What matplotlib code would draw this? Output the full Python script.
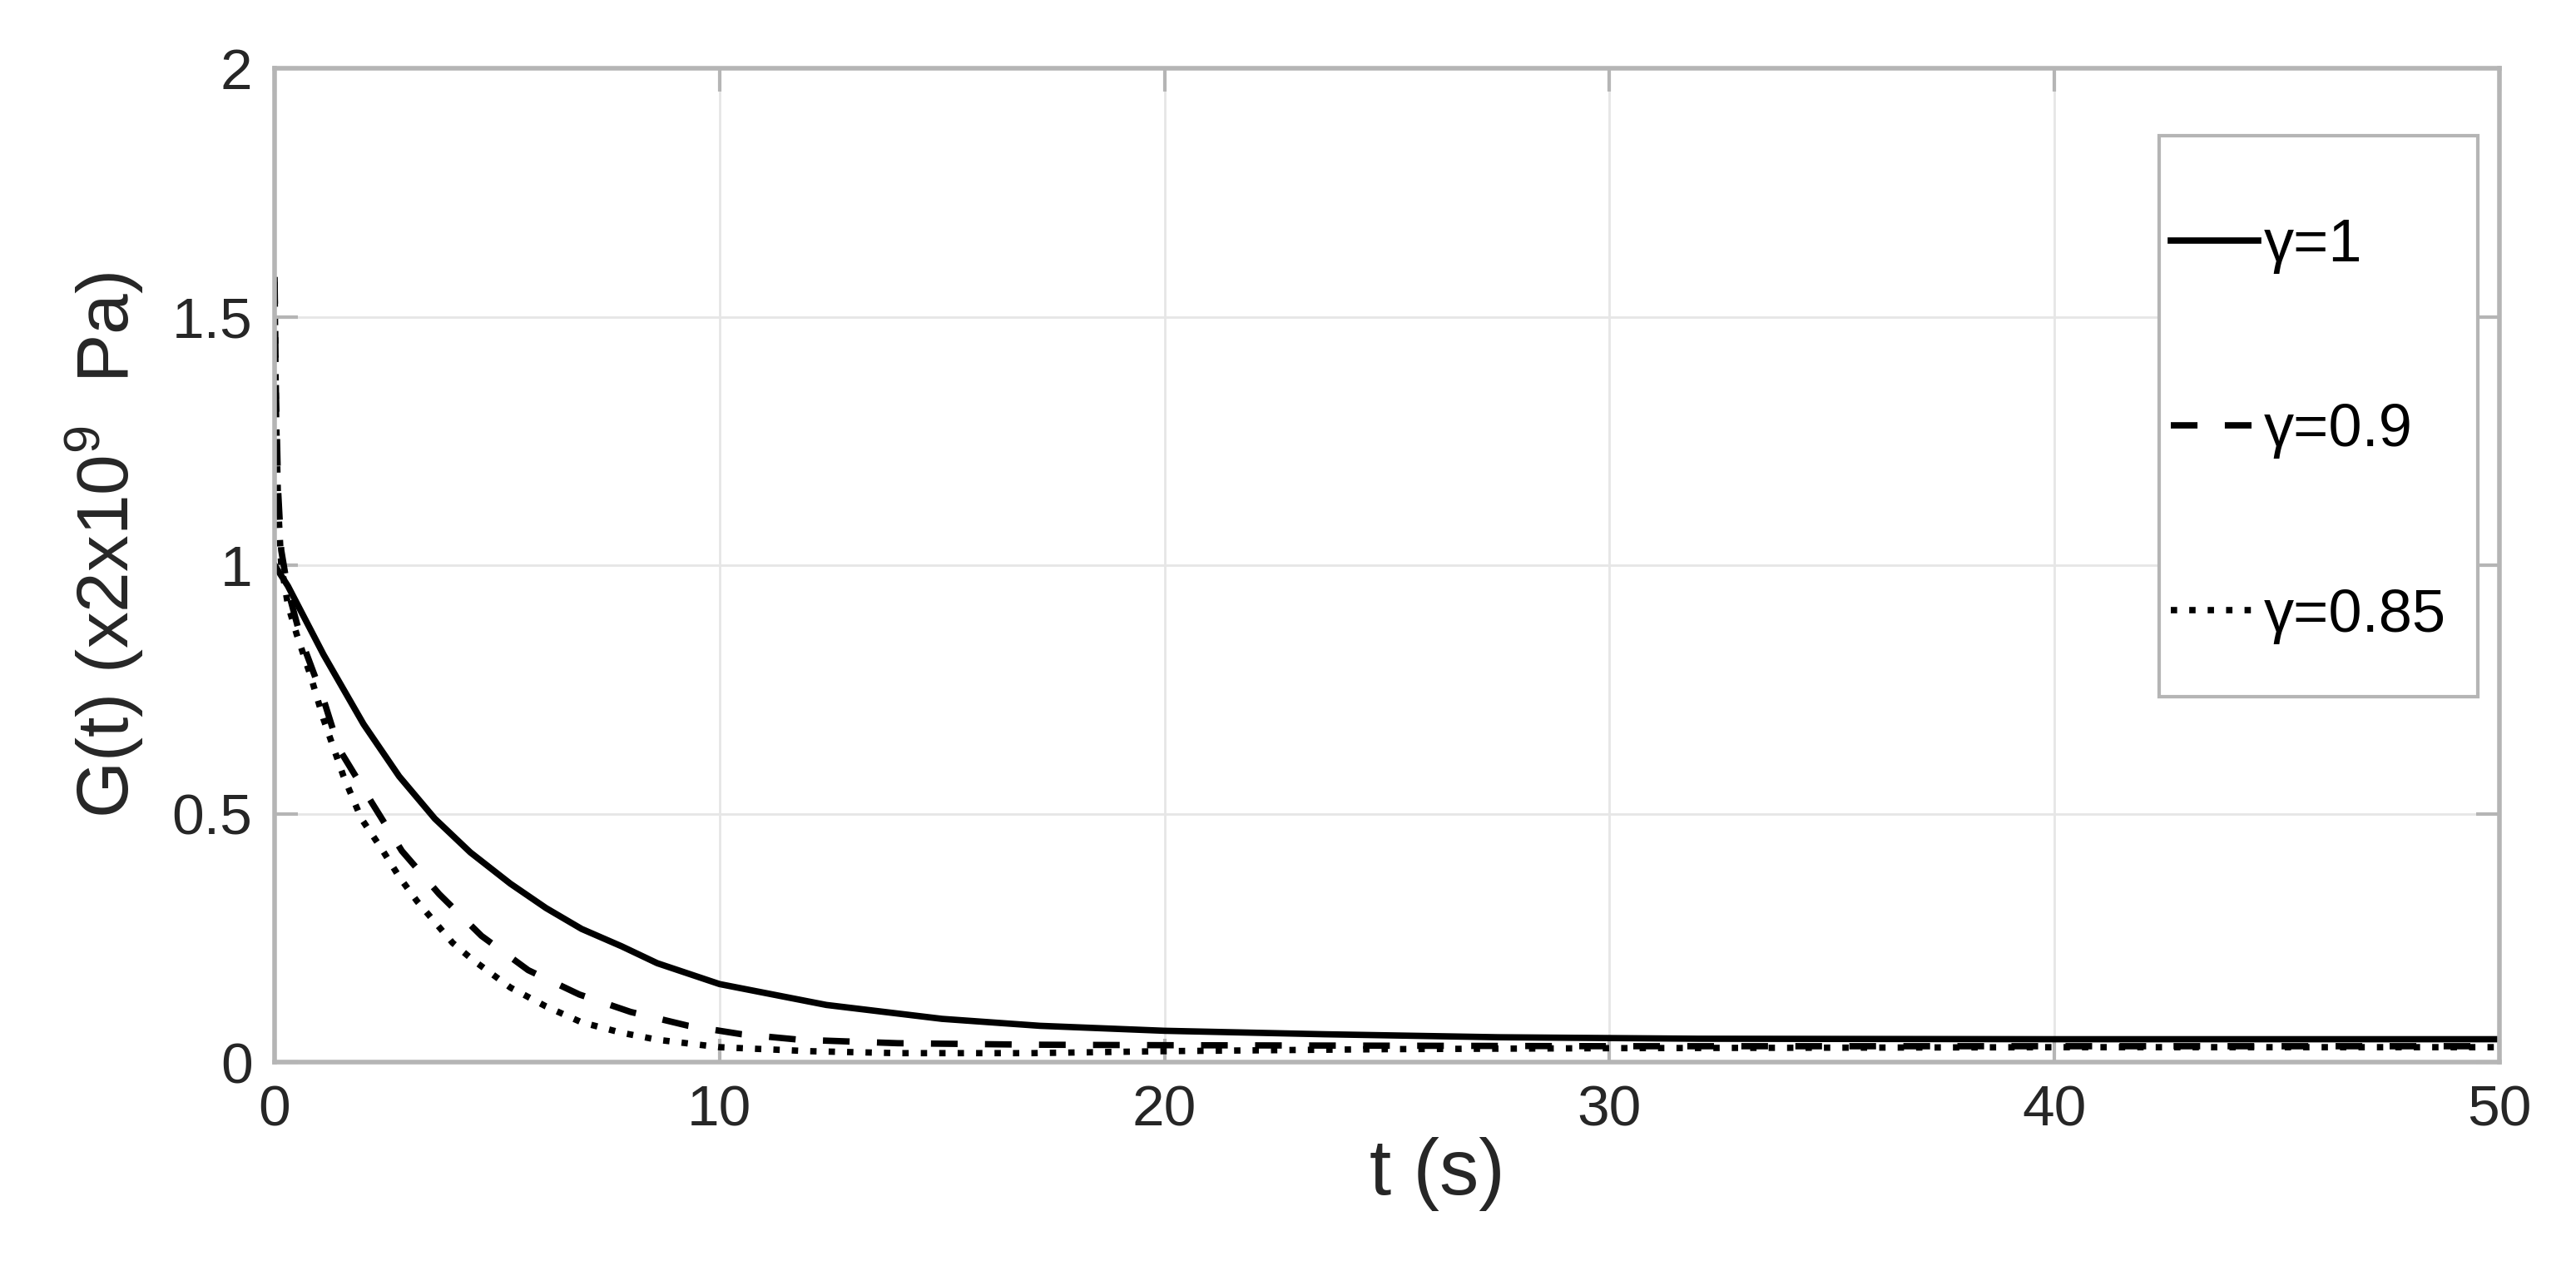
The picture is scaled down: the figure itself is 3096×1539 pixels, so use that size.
import matplotlib
matplotlib.use("Agg")
import matplotlib.pyplot as plt
from matplotlib.patches import Rectangle

plt.rcParams['font.family'] = ['Liberation Sans', 'DejaVu Sans']
plt.rcParams['mathtext.fontset'] = 'custom'
plt.rcParams['mathtext.rm'] = 'Liberation Sans'

# gamma = 1 (solid)
t_g1 = [0, 0.3, 1.1, 2.0, 2.8, 3.6, 4.4, 5.3, 6.1, 6.9, 7.8, 8.6, 10, 12.4,
        15, 17.2, 20, 23.6, 27.5, 32, 40, 50]
g_g1 = [1.0, 0.958, 0.82, 0.68, 0.575, 0.49, 0.422, 0.359, 0.31, 0.268, 0.233,
        0.199, 0.157, 0.115, 0.087, 0.073, 0.063, 0.056, 0.05, 0.047, 0.046, 0.046]

# gamma = 0.9 (dashed)
t_g09 = [0, 0.03, 0.08, 0.15, 0.3, 0.6, 1.1, 1.45, 2.2, 2.86, 3.7, 4.65, 5.7,
         6.85, 8.0, 9.3, 10.5, 11.8, 14, 17, 20, 25, 30, 40, 50]
g_g09 = [1.58, 1.35, 1.15, 1.03, 0.95, 0.85, 0.73, 0.63, 0.52, 0.425, 0.338,
         0.254, 0.185, 0.136, 0.101, 0.073, 0.056, 0.045, 0.038, 0.035, 0.034,
         0.033, 0.032, 0.032, 0.032]

# gamma = 0.85 (dotted)
t_g085 = [0, 0.03, 0.08, 0.15, 0.3, 0.5, 0.8, 1.1, 1.55, 1.95, 2.4, 2.8, 3.2,
          3.6, 4.0, 4.45, 5.3, 6.1, 6.9, 7.8, 8.6, 10, 12, 14, 17, 20, 25, 30,
          40, 50]
g_g085 = [1.57, 1.32, 1.12, 1.0, 0.92, 0.86, 0.78, 0.69, 0.575, 0.49, 0.43,
          0.373, 0.324, 0.282, 0.24, 0.206, 0.15, 0.112, 0.08, 0.059, 0.045,
          0.03, 0.022, 0.018, 0.018, 0.022, 0.026, 0.028, 0.03, 0.03]

labels = ['γ=1', 'γ=0.9', 'γ=0.85']
x_ticks = [0, 10, 20, 30, 40, 50]
y_ticks = [0, 0.5, 1, 1.5, 2]
y_tick_labels = ['0', '0.5', '1', '1.5', '2']

W, H = 3096, 1539
fig = plt.figure(figsize=(W / 100, H / 100), dpi=100)
ax = fig.add_axes([330 / W, 1 - 1276 / H, 2674 / W, 1194 / H])

ax.plot(t_g1, g_g1, color='black', lw=5.5, ls='-', label=labels[0])
ax.plot(t_g09, g_g09, color='black', lw=5.5, ls=(0, (4.2, 4.3)), label=labels[1])
ax.plot(t_g085, g_g085, color='black', lw=5.5, ls=(0, (1, 1.9)), label=labels[2])

ax.set_xlim(0, 50)
ax.set_ylim(0, 2)
ax.set_xticks(x_ticks)
ax.set_yticks(y_ticks)
ax.set_yticklabels(y_tick_labels)

ax.grid(True, color='#e6e6e6', lw=2)
ax.set_axisbelow(True)
for s in ax.spines.values():
    s.set_color('#b5b5b5')
    s.set_linewidth(4)
ax.tick_params(direction='in', length=20, width=3, color='#b5b5b5',
               labelsize=50, labelcolor='#262626', pad=19,
               top=True, right=True)

ax.set_xlabel('t (s)', fontsize=68, color='#262626')
ax.xaxis.set_label_coords((1727 - 330) / 2674, -0.075)
ax.set_ylabel('G(t) (x2x10$^{9}$  Pa)', fontsize=63, color='#262626')
ax.yaxis.set_label_coords(-0.058, (1276 - 655) / 1194)

# legend box (MATLAB style: tight left padding, tall rows)
box = Rectangle((2595 / W, 1 - 837 / H), 383 / W, 674 / H, transform=fig.transFigure,
                facecolor='white', edgecolor='#b5b5b5', lw=3, zorder=4.5)
ax.add_patch(box)
leg = ax.legend(loc='upper left', bbox_to_anchor=(2609 / W, 1 - 262 / H),
                bbox_transform=fig.transFigure, borderaxespad=0, borderpad=0,
                fontsize=52, handlelength=1.45, handletextpad=0.1,
                labelspacing=2.15, frameon=False)

plt.savefig('out.png', dpi=100)
